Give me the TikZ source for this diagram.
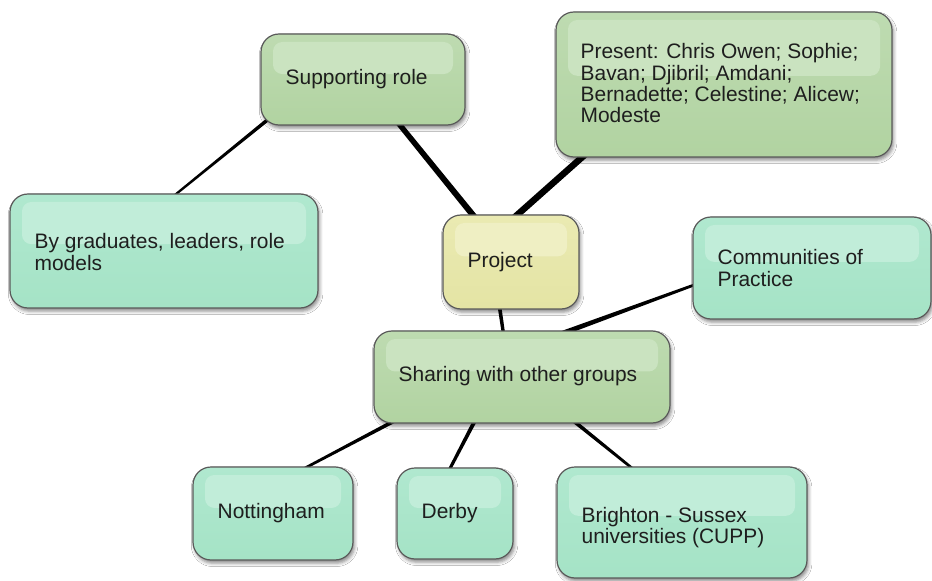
\documentclass[tikz,border=0pt]{standalone}
\usepackage{fontspec}
\setmainfont{Liberation Sans}
\usetikzlibrary{calc,shadows.blur}
\pgfdeclarelayer{background}
\pgfsetlayers{background,main}
\definecolor{gA}{HTML}{B1D3A1}
\definecolor{gAtop}{HTML}{BEDBB1}
\definecolor{gAgl}{HTML}{CAE3C0}
\definecolor{mA}{HTML}{A5E3C6}
\definecolor{mAtop}{HTML}{B0E8CF}
\definecolor{mAgl}{HTML}{C1EDD9}
\definecolor{yA}{HTML}{E4E4A4}
\definecolor{yAtop}{HTML}{EAEAB2}
\definecolor{yAgl}{HTML}{EFEFC3}
\definecolor{edge}{HTML}{5A5A5A}
\definecolor{ink}{HTML}{1E1E1E}
\tikzset{
  mbox/.style={draw=edge, line width=0.9pt, rounded corners=13.5pt, inner sep=0pt,
    blur shadow={shadow xshift=1.2pt, shadow yshift=-2.4pt, shadow blur radius=2.5pt, shadow opacity=45}},
  greenbox/.style={mbox, top color=gAtop, bottom color=gA},
  mintbox/.style={mbox, top color=mAtop, bottom color=mA},
  yellowbox/.style={mbox, top color=yAtop, bottom color=yA},
  boxtext/.style={inner sep=0pt, anchor=west, align=left, text=ink,
    font=\fontsize{15.7pt}{16pt}\selectfont},
  conn/.style={fill=black},
}
% #1 name, #2 style, #3 gloss colour, #4 left, #5 top, #6 right, #7 bottom, #8 text dy, #9 text
\newcommand\mbx[9]{%
  \pgfmathsetlengthmacro\bw{(#6-#4)*0.75pt}%
  \pgfmathsetlengthmacro\bh{(#7-#5)*0.75pt}%
  \node[#2, minimum width=\bw, minimum height=\bh] (#1) at ({(#4+#6)/2},{(#5+#7)/2}) {};
  \fill[#3, rounded corners=7pt] ({#4+12},{#5+8}) rectangle ({#6-12},{#5+0.44*(#7-#5)});
  \node[boxtext] (#1-t) at ($(#1.west)+(25,#8)$) {#9};
}
\newcommand\taper[4]{%
  \fill[conn] ($(#1)!#3*0.375pt!90:(#2)$) -- ($(#2)!#4*0.375pt!-90:(#1)$)
    -- ($(#2)!#4*0.375pt!90:(#1)$) -- ($(#1)!#3*0.375pt!-90:(#2)$) -- cycle;}
\begin{document}
\begin{tikzpicture}[x=0.75pt,y=-0.75pt]
\useasboundingbox (0,0) rectangle (932,581);
\mbx{sup}{greenbox}{gAgl}{261}{34}{465}{125}{0}{Supporting role}
\mbx{pres}{greenbox}{gAgl}{556}{12}{892}{157}{-1}{Present: Chris Owen; Sophie;\\Bavan; Djibril; Amdani;\\Bernadette; Celestine; Alicew;\\Modeste}
\mbx{by}{mintbox}{mAgl}{10}{194}{318}{308}{1}{By graduates, leaders, role\\models}
\mbx{proj}{yellowbox}{yAgl}{443}{215}{579}{309}{0}{Project}
\mbx{comm}{mintbox}{mAgl}{693}{217}{931}{319}{0}{Communities of\\Practice}
\mbx{shar}{greenbox}{gAgl}{374}{331}{670}{423}{-1}{Sharing with other groups}
\mbx{nott}{mintbox}{mAgl}{193}{467}{353}{560}{0}{Nottingham}
\mbx{derby}{mintbox}{mAgl}{397}{468}{513}{559}{0}{Derby}
\mbx{brig}{mintbox}{mAgl}{557}{467}{807}{578}{5}{Brighton - Sussex\\universities (CUPP)}
\begin{pgfonlayer}{background}
  \fill[white] (0,0) rectangle (932,581);
  \coordinate (c1a) at ($(by.north)+(6.3,5.3)$);
  \coordinate (c1b) at ($(sup.south west)+(12.8,-10.3)$);
  \coordinate (c3a) at ($(pres.south west)+(33,-6)$);
  \coordinate (c3b) at ($(proj.north)+(0,6)$);
  \coordinate (c4a) at ($(proj.south)+(-12.4,-9)$);
  \coordinate (c4b) at ($(shar.north)+(-17.7,9)$);
  \coordinate (c5a) at ($(shar.north)+(39.7,3.2)$);
  \coordinate (c5b) at ($(comm.west)+(10.3,13.8)$);
  \coordinate (c6a) at ($(shar.south west)+(24.8,-4.7)$);
  \coordinate (c6b) at ($(nott.north)+(26.2,4.7)$);
  \coordinate (c7a) at ($(shar.south)+(-45.4,-6.1)$);
  \coordinate (c7b) at ($(derby.north)+(-7.6,6.1)$);
  \coordinate (c8a) at ($(shar.south)+(49.8,-4.1)$);
  \coordinate (c8b) at ($(brig.north)+(-45.8,5.1)$);
  \taper{c1b}{c1a}{3.6}{2.2}
  \taper{proj}{sup}{6.5}{5}
  \taper{c3b}{c3a}{6.5}{6.5}
  \taper{c4a}{c4b}{3.8}{3.2}
  \taper{c5a}{c5b}{5}{2.6}
  \taper{c6a}{c6b}{3.8}{2.6}
  \taper{c7a}{c7b}{4}{3}
  \taper{c8a}{c8b}{3.8}{2.6}
\end{pgfonlayer}
\end{tikzpicture}
\end{document}
